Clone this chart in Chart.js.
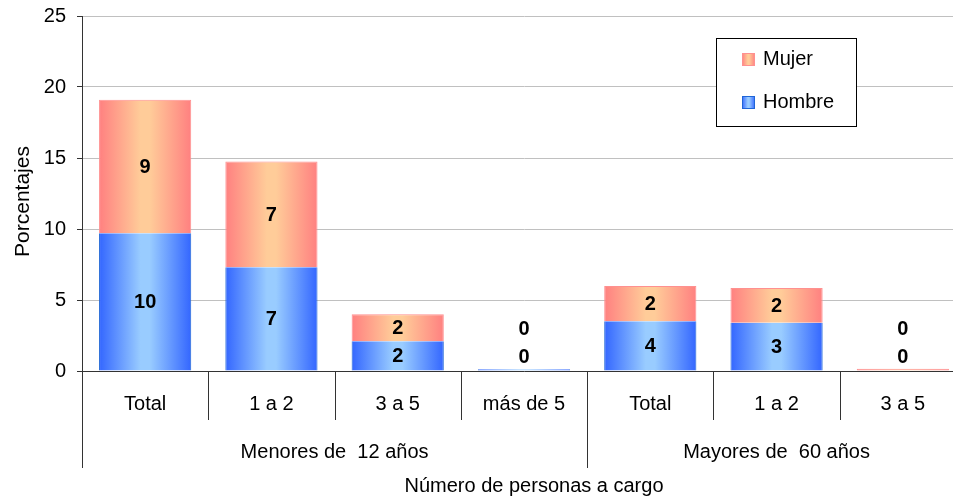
<!DOCTYPE html>
<html>
<head>
<meta charset="utf-8">
<script src="https://cdn.jsdelivr.net/npm/chart.js@4/dist/chart.umd.min.js"></script>
<style>
  html, body { margin: 0; padding: 0; background: #fff; overflow: hidden; }
  #wrap { width: 966px; height: 499px; }
</style>
</head>
<body>
<div id="wrap"><canvas id="c" width="966" height="499"></canvas></div>
<script>
// ---- Data ----
const categories = ['Total', '1 a 2', '3 a 5', 'más de 5', 'Total', '1 a 2', '3 a 5'];
const groupLabels = ['Menores de  12 años', 'Mayores de  60 años'];
const groupSizes = [4, 3];
const hombre = [9.7, 7.3, 2.1, 0.12, 3.5, 3.4, 0];
const mujer  = [9.4, 7.45, 1.9, 0, 2.49, 2.45, 0.15];
const seriesNames = ['Hombre', 'Mujer'];
const yMax = 25;
const yStep = 5;
const xTitle = 'Número de personas a cargo';
const yTitle = 'Porcentajes';

// ---- Style ----
const FONT = '"Liberation Sans", Arial, sans-serif';
const BAR_PCT = 0.73;
const BLUE_DARK = '#3366FF', BLUE_LIGHT = '#99CCFF', BLUE_EDGE = '#1F66D6';
const PINK_DARK = '#FF8080', PINK_LIGHT = '#FFCC99', PINK_EDGE = '#FF9090';

function makeGrad(g, x0, x1, dark, light) {
  const gr = g.createLinearGradient(x0, 0, x1, 0);
  gr.addColorStop(0, dark);
  gr.addColorStop(0.45, light);
  gr.addColorStop(0.55, light);
  gr.addColorStop(1, dark);
  return gr;
}

function barGradient(ctx, dark, light) {
  const chart = ctx.chart;
  const xs = chart.scales && chart.scales.x;
  if (!chart.chartArea || !xs || ctx.type !== 'data') return dark;
  const c = xs.getPixelForValue(ctx.dataIndex);
  const cw = xs.getPixelForValue(1) - xs.getPixelForValue(0);
  const half = cw * BAR_PCT / 2;
  return makeGrad(chart.ctx, c - half, c + half, dark, light);
}

const labelPlugin = {
  id: 'segLabels',
  afterDatasetsDraw(chart) {
    const g = chart.ctx;
    const ys = chart.scales.y;
    const zero = ys.getPixelForValue(0);
    g.save();
    g.font = 'bold 20px ' + FONT;
    g.fillStyle = '#000';
    g.textAlign = 'center';
    g.textBaseline = 'middle';
    chart.data.datasets.forEach((ds, di) => {
      const meta = chart.getDatasetMeta(di);
      meta.data.forEach((el, i) => {
        const v = ds.data[i];
        const h = Math.abs(el.base - el.y);
        let y;
        if (h >= 24) {
          y = (el.y + el.base) / 2;
        } else {
          y = di === 0 ? zero - 15 : zero - 43;
        }
        g.fillText(String(Math.round(v)), el.x, y + 1);
      });
    });
    g.restore();
  }
};

const decorPlugin = {
  id: 'decor',
  afterDraw(chart) {
    const g = chart.ctx;
    const xs = chart.scales.x;
    const ca = chart.chartArea;
    const bottom = ca.bottom;
    g.save();
    g.strokeStyle = '#333';
    g.lineWidth = 1;
    const cw = xs.getPixelForValue(1) - xs.getPixelForValue(0);
    const boundaries = [];
    let acc = 0;
    groupSizes.forEach(s => { acc += s; boundaries.push(acc); });
    for (let i = 0; i <= categories.length; i++) {
      const x = Math.round(xs.getPixelForValue(i) - cw / 2) + 0.5;
      const isGroup = i === 0 || boundaries.includes(i);
      g.beginPath();
      g.moveTo(x, bottom);
      g.lineTo(x, isGroup ? bottom + 97 : bottom + 49);
      g.stroke();
    }
    g.fillStyle = '#000';
    g.font = '20px ' + FONT;
    g.textAlign = 'center';
    g.textBaseline = 'middle';
    let start = 0;
    groupSizes.forEach((s, gi) => {
      const x0 = xs.getPixelForValue(start) - cw / 2;
      const x1 = xs.getPixelForValue(start + s - 1) + cw / 2;
      g.fillText(groupLabels[gi], (x0 + x1) / 2, bottom + 81);
      start += s;
    });
    g.fillText(xTitle, (ca.left + ca.right) / 2 + 10, bottom + 115);
    g.save();
    g.translate(23, (ca.top + ca.bottom) / 2 + 8);
    g.rotate(-Math.PI / 2);
    g.font = '21px ' + FONT;
    g.fillText(yTitle, 0, 0);
    g.restore();
    const lx = 716.5, ly = 38.5, lw = 140, lh = 88;
    g.fillStyle = '#fff';
    g.fillRect(lx, ly, lw, lh);
    g.strokeStyle = '#000';
    g.strokeRect(lx, ly, lw, lh);
    const items = [
      { name: seriesNames[1], dark: PINK_DARK, light: PINK_LIGHT, edge: PINK_EDGE, y: 59.5 },
      { name: seriesNames[0], dark: BLUE_DARK, light: BLUE_LIGHT, edge: BLUE_EDGE, y: 102.5 }
    ];
    items.forEach(it => {
      const mx = 742, my = it.y - 6.5;
      g.fillStyle = makeGrad(g, mx, mx + 13, it.dark, it.light);
      g.fillRect(mx, my, 13, 13);
      g.strokeStyle = it.edge;
      g.strokeRect(mx + 0.5, my + 0.5, 12, 12);
      g.fillStyle = '#000';
      g.font = '20px ' + FONT;
      g.textAlign = 'left';
      g.fillText(it.name, 763, it.y);
    });
    g.restore();
  }
};

const bgPlugin = {
  id: 'bg',
  beforeDraw(chart) {
    const g = chart.ctx;
    g.save();
    g.fillStyle = '#fff';
    g.fillRect(0, 0, chart.width, chart.height);
    g.restore();
  }
};

new Chart(document.getElementById('c'), {
  type: 'bar',
  data: {
    labels: categories,
    datasets: [
      {
        label: seriesNames[0],
        data: hombre,
        backgroundColor: ctx => barGradient(ctx, BLUE_DARK, BLUE_LIGHT),
        borderColor: BLUE_EDGE,
        borderWidth: { left: 1, right: 1, top: 0, bottom: 0 },
        borderSkipped: false,
        barPercentage: BAR_PCT,
        categoryPercentage: 1
      },
      {
        label: seriesNames[1],
        data: mujer,
        backgroundColor: ctx => barGradient(ctx, PINK_DARK, PINK_LIGHT),
        borderColor: PINK_EDGE,
        borderWidth: { left: 1, right: 1, top: 1, bottom: 0 },
        borderSkipped: false,
        barPercentage: BAR_PCT,
        categoryPercentage: 1
      }
    ]
  },
  options: {
    responsive: false,
    animation: false,
    devicePixelRatio: 1,
    layout: { padding: { top: 16, right: 0, left: 0, bottom: 0 } },
    plugins: {
      legend: { display: false },
      tooltip: { enabled: false }
    },
    scales: {
      x: {
        stacked: true,
        offset: true,
        grid: { display: false, drawTicks: false },
        border: { display: true, color: '#333', width: 1 },
        ticks: {
          color: '#000',
          font: { family: FONT, size: 20 },
          padding: 21,
          maxRotation: 0,
          autoSkip: false
        },
        afterFit: s => { s.height = 128; s.paddingLeft = 0; s.paddingRight = 0; }
      },
      y: {
        stacked: true,
        min: 0,
        max: yMax,
        ticks: {
          stepSize: yStep,
          color: '#000',
          font: { family: FONT, size: 20 },
          padding: 11
        },
        grid: { color: '#C0C0C0', tickColor: '#333', tickLength: 5 },
        border: { display: true, color: '#333', width: 1 },
        afterFit: s => { s.width = 82; s.paddingTop = 0; s.paddingBottom = 0; }
      }
    }
  },
  plugins: [bgPlugin, labelPlugin, decorPlugin]
});
</script>
</body>
</html>
